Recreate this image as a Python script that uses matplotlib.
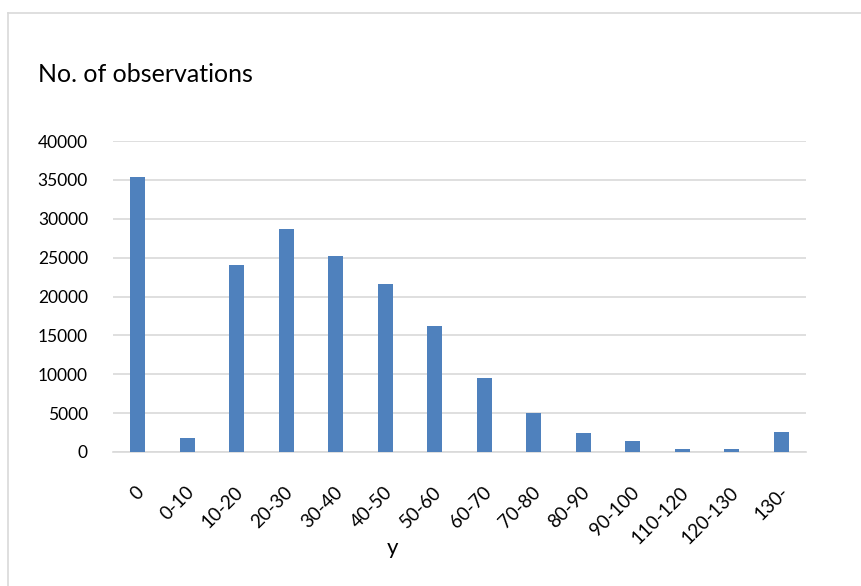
import matplotlib
matplotlib.use("Agg")
import matplotlib.pyplot as plt
import matplotlib.transforms as mtransforms
from matplotlib.lines import Line2D

plt.rcParams["font.family"] = ["Lato", "DejaVu Sans"]

categories = ["0", "0-10", "10-20", "20-30", "30-40", "40-50", "50-60",
              "60-70", "70-80", "80-90", "90-100", "110-120", "120-130", "130-"]
counts = [35400, 1800, 24000, 28700, 25200, 21600, 16200,
          9500, 5000, 2400, 1400, 400, 350, 2600]
y_ticks = [0, 5000, 10000, 15000, 20000, 25000, 30000, 35000, 40000]

W, H = 861, 586
fig = plt.figure(figsize=(W / 100, H / 100), dpi=100)
ax = fig.add_axes([113 / W, 1 - 452 / H, (806 - 113) / W, (452 - 141) / H])

x = list(range(len(categories)))
ax.bar(x, counts, width=0.31, color="#4F81BD", zorder=3)

ax.set_xlim(-0.5, len(categories) - 0.5)
ax.set_ylim(0, 40000)
ax.set_yticks(y_ticks)
ax.set_yticklabels([str(v) for v in y_ticks], fontsize=12.5, color="#000000")
ax.yaxis.grid(True, color="#D9D9D9", linewidth=1.2, zorder=0)
ax.set_axisbelow(True)

ax.set_xticks(x)
ax.set_xticklabels(categories, rotation=45, ha="right", va="center",
                   rotation_mode="anchor", fontsize=13.5)
ax.tick_params(axis="both", length=0)
ax.tick_params(axis="x", pad=27)
ax.tick_params(axis="y", pad=18)

# nudge the rotated category labels slightly to the right
shift = mtransforms.ScaledTranslation(4 / 100, 0, fig.dpi_scale_trans)
for lbl in ax.get_xticklabels():
    lbl.set_transform(lbl.get_transform() + shift)

for side in ("top", "right", "left"):
    ax.spines[side].set_visible(False)
ax.spines["bottom"].set_color("#D9D9D9")
ax.spines["bottom"].set_linewidth(1.2)

ax.text((393 - 113) / (806 - 113), -0.31, "y", transform=ax.transAxes,
        ha="center", va="center", fontsize=16)

fig.text(38 / W, 1 - 75 / H, "No. of observations", ha="left", va="center",
         fontsize=18)

# frame around the chart area
fig.add_artist(Line2D([8 / W, 8 / W], [0, 1 - 13 / H], transform=fig.transFigure,
                      color="#D9D9D9", linewidth=1.2))
fig.add_artist(Line2D([8 / W, 1], [1 - 13 / H, 1 - 13 / H], transform=fig.transFigure,
                      color="#D9D9D9", linewidth=1.2))

fig.savefig("out.png", dpi=100)
